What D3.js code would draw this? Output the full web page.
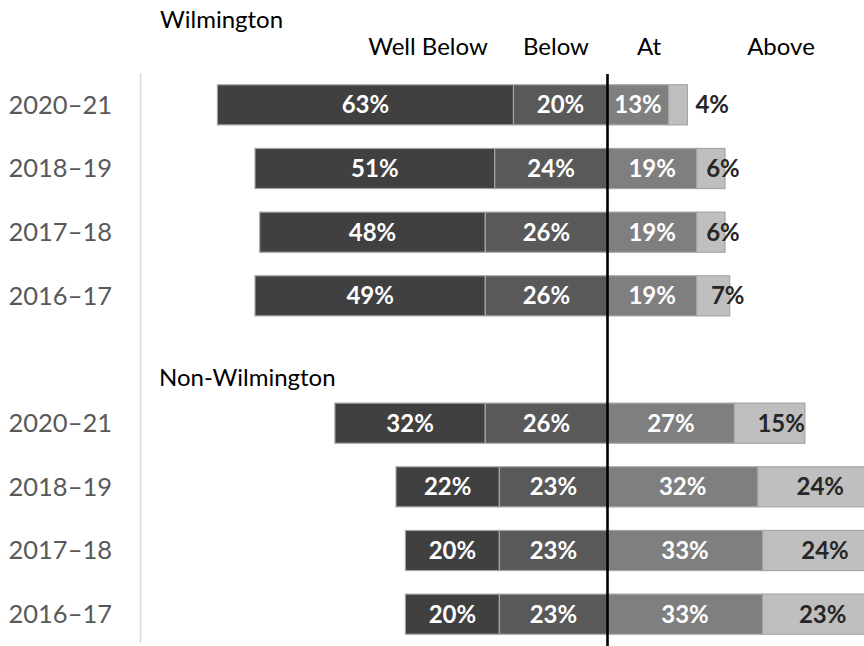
<!DOCTYPE html>
<html><head><meta charset="utf-8">
<script src="https://cdn.jsdelivr.net/npm/d3@7"></script>
<style>body{margin:0;background:#fff}svg{display:block}</style>
</head><body><svg id="c" width="864" height="646"></svg>
<script>
const years = ["2020–21","2018–19","2017–18","2016–17"];
const groups = ["Wilmington","Non-Wilmington"];
const levels = ["Well Below","Below","At","Above"];
const wilWellBelow = [63,51,48,49];
const wilBelow = [20,24,26,26];
const wilAt = [13,19,19,19];
const wilAbove = [4,6,6,7];
const nonWellBelow = [32,22,20,20];
const nonBelow = [26,23,23,23];
const nonAt = [27,32,33,33];
const nonAbove = [15,24,24,23];

const colors = ["#404040","#595959","#7f7f7f","#bfbfbf"];
const labelColors = ["#ffffff","#ffffff","#ffffff","#262626"];
const font = "Lato, 'Open Sans', sans-serif";

const rows = [];
years.forEach((y,i)=>rows.push({key:"w"+i, year:y, vals:[wilWellBelow[i],wilBelow[i],wilAt[i],wilAbove[i]]}));
rows.push({key:"gap", year:"", vals:null});
years.forEach((y,i)=>rows.push({key:"n"+i, year:y, vals:[nonWellBelow[i],nonBelow[i],nonAt[i],nonAbove[i]]}));

const svg = d3.select("#c");
const cx = 607.5, pxPer = 4.7;
const x = d3.scaleLinear().domain([-100,100]).range([cx-100*pxPer, cx+100*pxPer]);
const y = d3.scaleBand().domain(rows.map(r=>r.key)).range([73,646]).paddingInner(0.37).paddingOuter(0.185);

// left axis line
svg.append("line").attr("x1",140.5).attr("x2",140.5).attr("y1",73).attr("y2",643)
  .attr("stroke","#d9d9d9").attr("stroke-width",1.5);

// category labels
const yAxis = d3.axisLeft(y).tickSize(0).tickPadding(0).tickFormat(k=>{const r=rows.find(d=>d.key===k);return r.year;});
const ga = svg.append("g").attr("transform","translate(112,0)").call(yAxis);
ga.select(".domain").remove();
ga.selectAll("text").attr("font-family",font).attr("font-size",25.5).attr("fill","#595959").attr("dy","0.35em");

// segments
const segs = [];
rows.filter(r=>r.vals).forEach(r=>{
  const [wb,b,a,ab] = r.vals;
  const starts = [-(wb+b), -b, 0, a];
  r.vals.forEach((v,j)=>segs.push({key:r.key, j, v, x0:starts[j], x1:starts[j]+v}));
});

svg.append("g").selectAll("rect").data(segs).join("rect")
  .attr("x",d=>x(d.x0)).attr("width",d=>x(d.x1)-x(d.x0))
  .attr("y",d=>y(d.key)).attr("height",y.bandwidth())
  .attr("fill",d=>colors[d.j]).attr("stroke","#a6a6a6").attr("stroke-width",1.2);

// labels
svg.append("g").selectAll("text").data(segs).join("text")
  .each(function(d){
    const s = d3.select(this);
    const x0 = x(d.x0), x1 = x(d.x1), w = x1-x0;
    let px = (x0+x1)/2, anchor = "middle";
    if (d.j===3){
      if (w<25){px = x1+8; anchor="start";}
      else if (w<50){px = x1-2;}
      else if (w<80){px = x1; anchor="end";}
      else {px = (x0+x1)/2+6;}
    }
    s.attr("x",px).attr("text-anchor",anchor);
  })
  .attr("y",d=>y(d.key)+y.bandwidth()/2).attr("dy","0.36em")
  .attr("font-family",font).attr("font-weight","bold").attr("font-size",24)
  .attr("fill",d=>labelColors[d.j]).text(d=>d.v+"%");

// center line
svg.append("line").attr("x1",cx).attr("x2",cx).attr("y1",74).attr("y2",646)
  .attr("stroke","#000").attr("stroke-width",2.6);

// group titles
svg.append("text").attr("x",160).attr("y",28).text(groups[0])
  .attr("font-family",font).attr("font-size",24).attr("fill","#000");
svg.append("text").attr("x",159).attr("y",386).text(groups[1])
  .attr("font-family",font).attr("font-size",24).attr("fill","#000");

// level headers
const headerX = [428,556,649,781];
svg.append("g").selectAll("text").data(levels).join("text")
  .attr("x",(d,i)=>headerX[i]).attr("y",55).attr("text-anchor","middle")
  .attr("font-family",font).attr("font-size",24).attr("fill","#000").text(d=>d);
</script></body></html>
